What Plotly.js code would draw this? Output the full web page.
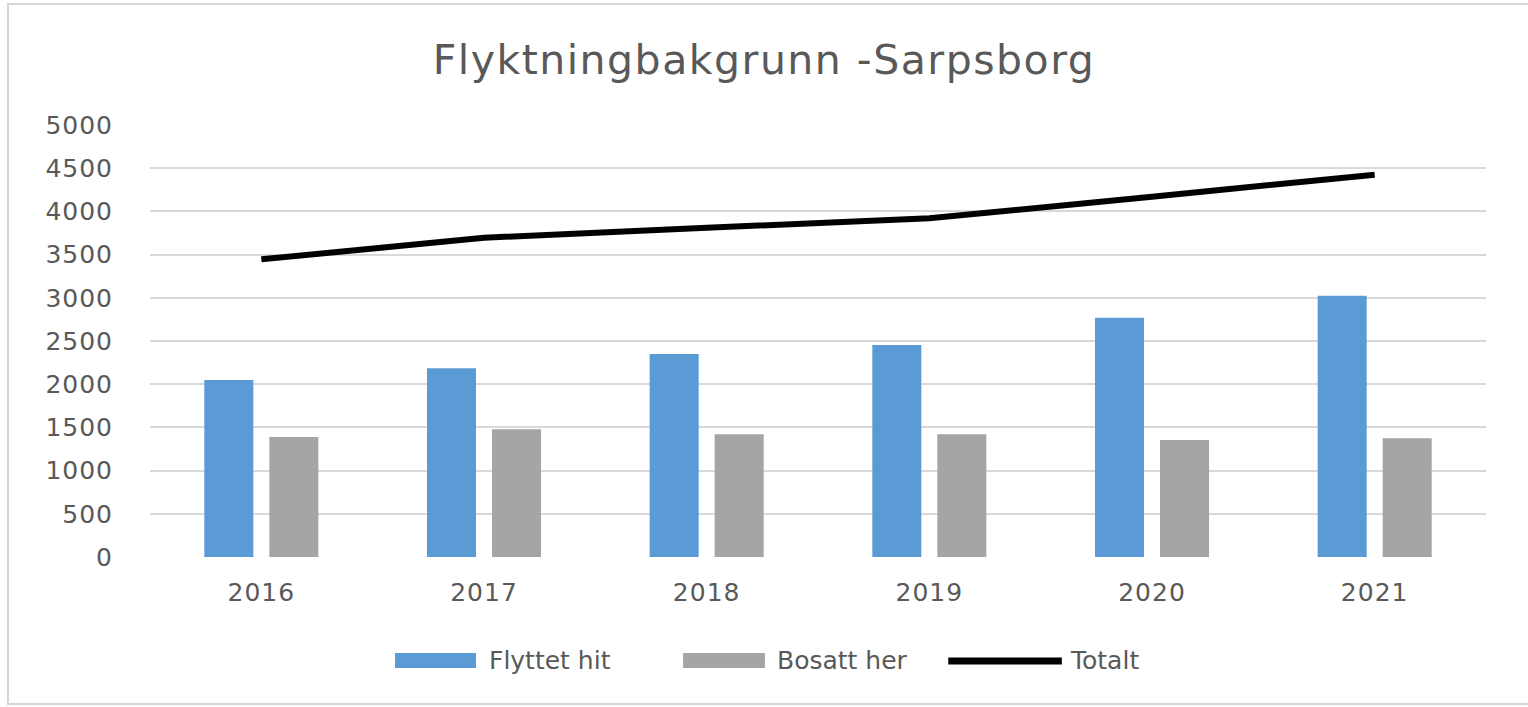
<!DOCTYPE html>
<html>
<head>
<meta charset="utf-8">
<script src="https://cdn.plot.ly/plotly-3.0.1.min.js"></script>
<style>
  html, body { margin: 0; padding: 0; background: #ffffff; overflow: hidden; }
  #chart { position: absolute; left: 0; top: 0; width: 1528px; height: 707px; }
  #frame { position: absolute; left: 7px; top: 3px; width: 1540px; height: 702px;
           border: 2px solid #d6d6d6; pointer-events: none; box-sizing: border-box; }
  #chart .gtitle { letter-spacing: 1.5px; }
  #chart .ytick text { letter-spacing: 1px; }
  #chart .xtick text { letter-spacing: 1px; }
</style>
</head>
<body>
<div id="chart"></div>
<div id="frame"></div>
<script>
// Data
const years = ["2016", "2017", "2018", "2019", "2020", "2021"];
const flyttetHit = [2050, 2185, 2350, 2455, 2770, 3025];
const bosattHer = [1390, 1480, 1420, 1420, 1355, 1375];
const totalt = [3445, 3695, 3810, 3920, 4170, 4425];
const yTicks = [0, 500, 1000, 1500, 2000, 2500, 3000, 3500, 4000, 4500, 5000];
const seriesNames = ["Flyttet hit", "Bosatt her", "Totalt"];

const textColor = "#595959";
const fontFamily = "'DejaVu Sans', 'Open Sans', sans-serif";
const colors = ["#5b9bd5", "#a5a5a5", "#000000"];

const traces = [
  { type: "bar", name: seriesNames[0], x: years, y: flyttetHit,
    marker: { color: colors[0] } },
  { type: "bar", name: seriesNames[1], x: years, y: bosattHer,
    marker: { color: colors[1] } },
  { type: "scatter", mode: "lines", name: seriesNames[2], x: years, y: totalt,
    line: { color: colors[2], width: 6 } }
];

// Legend drawn as layout decoration (wide swatches like the original)
const legY = -0.2407;
const shapes = [
  { type: "rect", xref: "paper", yref: "paper", x0: 0.1834, x1: 0.2440, y0: -0.2569, y1: -0.2222,
    fillcolor: colors[0], line: { width: 0 } },
  { type: "rect", xref: "paper", yref: "paper", x0: 0.3990, x1: 0.4603, y0: -0.2569, y1: -0.2222,
    fillcolor: colors[1], line: { width: 0 } },
  { type: "line", xref: "paper", yref: "paper", x0: 0.5975, x1: 0.6825, y0: legY, y1: legY,
    line: { color: colors[2], width: 7 } }
];
const legTextX = [0.2522, 0.4678, 0.6871];
const annotations = seriesNames.map((n, i) => ({
  text: n, xref: "paper", yref: "paper", x: legTextX[i], y: legY,
  xanchor: "left", yanchor: "middle", showarrow: false,
  font: { family: fontFamily, size: 25, color: textColor }
}));

const layout = {
  width: 1528, height: 707,
  margin: { l: 150, r: 42, t: 125, b: 150 },
  paper_bgcolor: "#ffffff", plot_bgcolor: "#ffffff",
  font: { family: fontFamily, color: textColor, size: 25 },
  title: { text: "Flyktningbakgrunn -Sarpsborg", x: 0.5, xref: "container", xanchor: "center",
           y: 0.915, yref: "container", yanchor: "middle",
           font: { family: fontFamily, size: 41, color: textColor } },
  barmode: "group", bargap: 0.416, bargroupgap: 0.246,
  xaxis: { type: "category", showgrid: false, zeroline: false, showline: false,
           ticks: "", ticklabelstandoff: 18,
           tickfont: { family: fontFamily, size: 25, color: textColor } },
  yaxis: { range: [0, 5000], tickvals: yTicks, showgrid: true, gridcolor: "#d9d9d9", gridwidth: 2,
           zeroline: false, showline: false, ticks: "", ticklabelstandoff: 36,
           tickfont: { family: fontFamily, size: 25, color: textColor } },
  showlegend: false,
  shapes: shapes,
  annotations: annotations
};

Plotly.newPlot("chart", traces, layout, { displayModeBar: false, staticPlot: true });
</script>
</body>
</html>
